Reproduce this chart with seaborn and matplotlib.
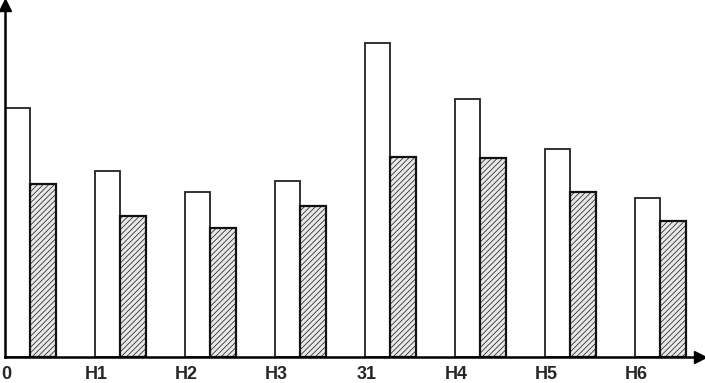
import numpy as np
import pandas as pd
import matplotlib
matplotlib.use("Agg")
import matplotlib.pyplot as plt
import seaborn as sns

categories = ["0", "H1", "H2", "H3", "31", "H4", "H5", "H6"]
white_values = [249, 186, 165, 176, 314, 258, 208, 159]
hatched_values = [173, 141, 129, 151, 200, 199, 165, 136]
series_names = ["A", "B"]

df = pd.DataFrame({
    "cat": categories * 2,
    "value": white_values + hatched_values,
    "series": [series_names[0]] * len(categories) + [series_names[1]] * len(categories),
})

sns.set_style("white")
plt.rcParams["font.family"] = ["Liberation Sans Narrow", "Liberation Sans", "DejaVu Sans"]
plt.rcParams["hatch.color"] = "#b4b4b4"
plt.rcParams["hatch.linewidth"] = 0.5

fig = plt.figure(figsize=(7.05, 3.83), dpi=100)
ax = fig.add_axes([5 / 705, 26 / 383, 695 / 705, 352 / 383])

sns.barplot(data=df, x="cat", y="value", hue="series", order=categories,
            hue_order=series_names, palette=["white", "#e8e8e8"],
            width=0.567, gap=0, legend=False, ax=ax, saturation=1)

n = len(categories)
for i, p in enumerate(ax.patches[:2 * n]):
    if i < n:
        p.set_edgecolor("#222222")
        p.set_linewidth(1.3)
    else:
        p.set_edgecolor("#111111")
        p.set_linewidth(1.6)
        p.set_hatch("//////")

ax.set_xlim(-0.283, 7.44)
ax.set_ylim(0, 352)
ax.set_xticks(np.arange(n) - 0.27)
ax.set_xticklabels(categories, fontsize=13, fontweight="bold")
ax.tick_params(axis="x", length=0, pad=6.5)
ax.set_yticks([])
ax.set_xlabel("")
ax.set_ylabel("")

for s in ["top", "right"]:
    ax.spines[s].set_visible(False)
for s in ["left", "bottom"]:
    ax.spines[s].set_color("black")
    ax.spines[s].set_linewidth(1.8)

ax.plot(1, 0, ">k", markersize=8, transform=ax.transAxes, clip_on=False)
ax.plot(0, 1, "^k", markersize=8, transform=ax.transAxes, clip_on=False)

fig.savefig("out.png", dpi=100)
